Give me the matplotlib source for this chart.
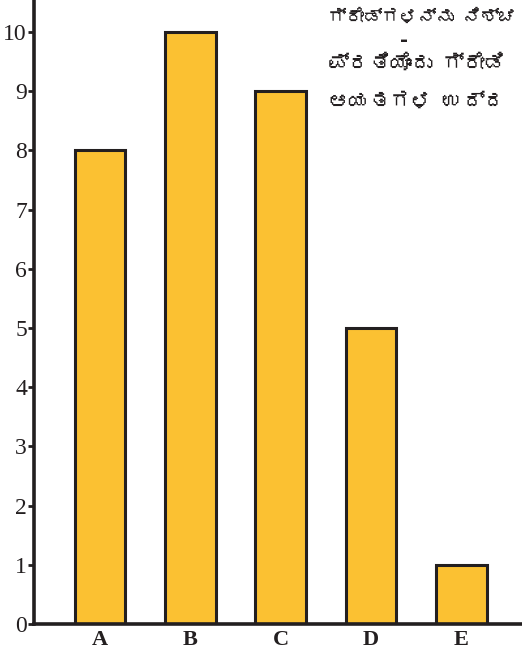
import matplotlib
matplotlib.use("Agg")
import matplotlib.pyplot as plt
from matplotlib import font_manager
from matplotlib.ft2font import FT2Font

# Data
grades = ["A", "B", "C", "D", "E"]
counts = [8, 10, 9, 5, 1]
y_ticks = [0, 1, 2, 3, 4, 5, 6, 7, 8, 9, 10]

note_lines = [
    "ಗ್ರೇಡ್ಗಳನ್ನು ನಿಶ್ಚ",
    "ಪ್ರತಿಯೊಂದು ಗ್ರೇಡಿ",
    "ಆಯತಗಳ ಉದ್ದ",
]


def kannada_family():
    """Return an installed font family that has Kannada glyphs, if any."""
    for f in font_manager.fontManager.ttflist:
        try:
            if FT2Font(f.fname).get_char_index(0x0C95):
                return f.name
        except Exception:
            continue
    return None


kn = kannada_family()
note_family = [kn, "DejaVu Sans"] if kn else ["DejaVu Sans"]

bar_color = "#FBC132"
ink = "#231F20"

fig = plt.figure(figsize=(5.22, 6.56), dpi=100)
ax = fig.add_axes([0.0651, 0.0488, 0.9349, 0.9512])

x = list(range(len(grades)))
ax.bar(x, counts, width=0.56, color=bar_color, edgecolor=ink, linewidth=2.2, zorder=2)

ax.set_xlim(-0.73, 4.67)
ax.set_ylim(0, 10.54)

ax.set_yticks(y_ticks)
ax.set_yticklabels([str(v) for v in y_ticks], family="Liberation Serif", fontsize=17, color=ink)
ax.set_xticks(x)
ax.set_xticklabels(grades, family="Liberation Serif", fontsize=16, fontweight="bold", color=ink)

ax.tick_params(axis="y", direction="out", length=4, width=2, color=ink, pad=1)
ax.tick_params(axis="x", length=0, pad=4)

for side in ("top", "right"):
    ax.spines[side].set_visible(False)
for side in ("left", "bottom"):
    ax.spines[side].set_color(ink)
    ax.spines[side].set_linewidth(2.6)

# Note text in the upper right corner
note_kw = dict(family=note_family, color=ink, va="center", ha="left")
fig.text(328 / 522, 1 - 17 / 656, note_lines[0], fontsize=13, **note_kw)
fig.text(400 / 522, 1 - 40 / 656, "-", family="DejaVu Sans", fontsize=14,
         color=ink, va="center", ha="left", fontweight="bold")
fig.text(328 / 522, 1 - 63 / 656, note_lines[1], fontsize=15, **note_kw)
fig.text(328 / 522, 1 - 102 / 656, note_lines[2], fontsize=15, **note_kw)

fig.savefig("out.png", dpi=100)
